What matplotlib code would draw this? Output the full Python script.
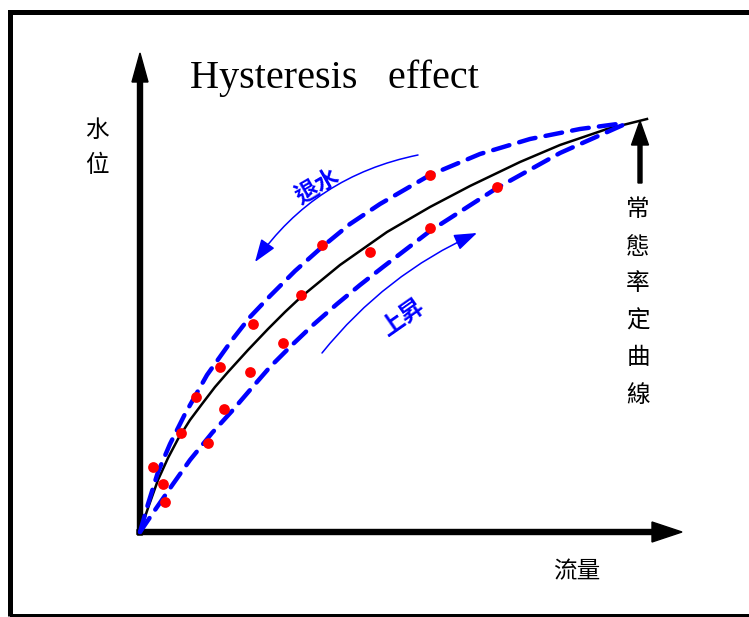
import numpy as np
import matplotlib.pyplot as plt
from matplotlib.patches import Rectangle

plt.rcParams['font.family'] = ['Noto Sans CJK TC', 'DejaVu Sans']

# discharge / stage readings (schematic units, origin at axis corner)
rating_q = [0, 8, 18, 28, 38, 50, 62, 75, 88, 108, 128, 145, 161, 200, 247, 290,
            330, 380, 420, 467, 507]
rating_h = [0, 24, 52, 74, 93, 112, 128, 145, 160, 182, 203, 220, 235, 267, 300, 325,
            346, 370, 387, 403, 413]

falling_q = [0, 8, 18, 30, 45, 67, 92, 110, 130, 155, 182, 210, 240, 290, 340, 390,
             440, 485]
falling_h = [0, 28, 60, 88, 118, 157, 192, 215, 236, 261, 285, 308, 328, 357, 378, 393,
             403, 409]

rising_q = [0, 15, 33, 50, 72, 92, 110, 130, 152, 173, 197, 220, 243, 290, 357, 420, 483]
rising_h = [0, 22, 48, 72, 99, 121, 142, 165, 187, 207, 228, 247, 265, 301, 344, 379, 407]

obs_q = [13, 23, 25, 41, 56, 68, 80, 84, 110, 113, 143, 161, 182, 230, 290, 290, 357]
obs_h = [65, 48, 30, 99, 135, 89, 165, 123, 160, 208, 189, 237, 287, 280, 357, 304, 345]

fig = plt.figure(figsize=(7.49, 6.17), dpi=100)
ax = fig.add_axes([0, 0, 1, 1])
ax.set_xlim(-140, 609)
ax.set_ylim(-85, 532)
ax.axis('off')

# outer frame
ax.add_patch(Rectangle((-130, -84), 800, 604, fill=False, lw=3.6, ec='black'))

# axes with arrows
ax.arrow(0, -3, 0, 482, width=5, head_width=16, head_length=29,
         length_includes_head=True, color='black')
ax.arrow(-3, 0, 545, 0, width=5, head_width=20, head_length=30,
         length_includes_head=True, color='black')

# curves
ax.plot(rating_q, rating_h, color='black', lw=1.8, solid_joinstyle='round')
for q, h in [(falling_q, falling_h), (rising_q, rising_h)]:
    ln, = ax.plot(q, h, color='#0000ff', lw=3.2, dash_capstyle='round',
                  dash_joinstyle='round')
    ln.set_dashes((3.8, 2.3))

ax.scatter(obs_q, obs_h, s=60, color='#ff0000', zorder=5, linewidths=0)

# rising / falling arrows
ax.annotate('', xy=(115, 270), xytext=(278, 377),
            arrowprops=dict(arrowstyle='-|>,head_length=1.4,head_width=0.5',
                            connectionstyle='arc3,rad=0.2', color='#0000ff',
                            lw=1.1, mutation_scale=10, shrinkA=0, shrinkB=0))
ax.annotate('', xy=(337, 299), xytext=(182, 179),
            arrowprops=dict(arrowstyle='-|>,head_length=1.4,head_width=0.5',
                            connectionstyle='arc3,rad=-0.12', color='#0000ff',
                            lw=1.1, mutation_scale=10, shrinkA=0, shrinkB=0))
ax.text(177, 346, '退水', color='#0000ff', fontsize=17, fontweight='bold',
        rotation=30, ha='center', va='center')
ax.text(263, 215, '上昇', color='#0000ff', fontsize=17, fontweight='bold',
        rotation=35, ha='center', va='center')

# rating curve pointer
ax.arrow(500, 349, 0, 62, width=4, head_width=17, head_length=24,
         length_includes_head=True, color='black')
for i, ch in enumerate('常態率定曲線'):
    ax.text(498, 322 - i * 37, ch, fontsize=17, ha='center', va='center')

# axis labels
for i, ch in enumerate('水位'):
    ax.text(-43, 402 - i * 35, ch, fontsize=17, ha='center', va='center')
ax.text(437, -40, '流量', fontsize=17, ha='center', va='center')

ax.text(50, 454, 'Hysteresis   effect', fontsize=29, family='Liberation Serif',
        ha='left', va='center')

fig.savefig('out.png', dpi=100)
